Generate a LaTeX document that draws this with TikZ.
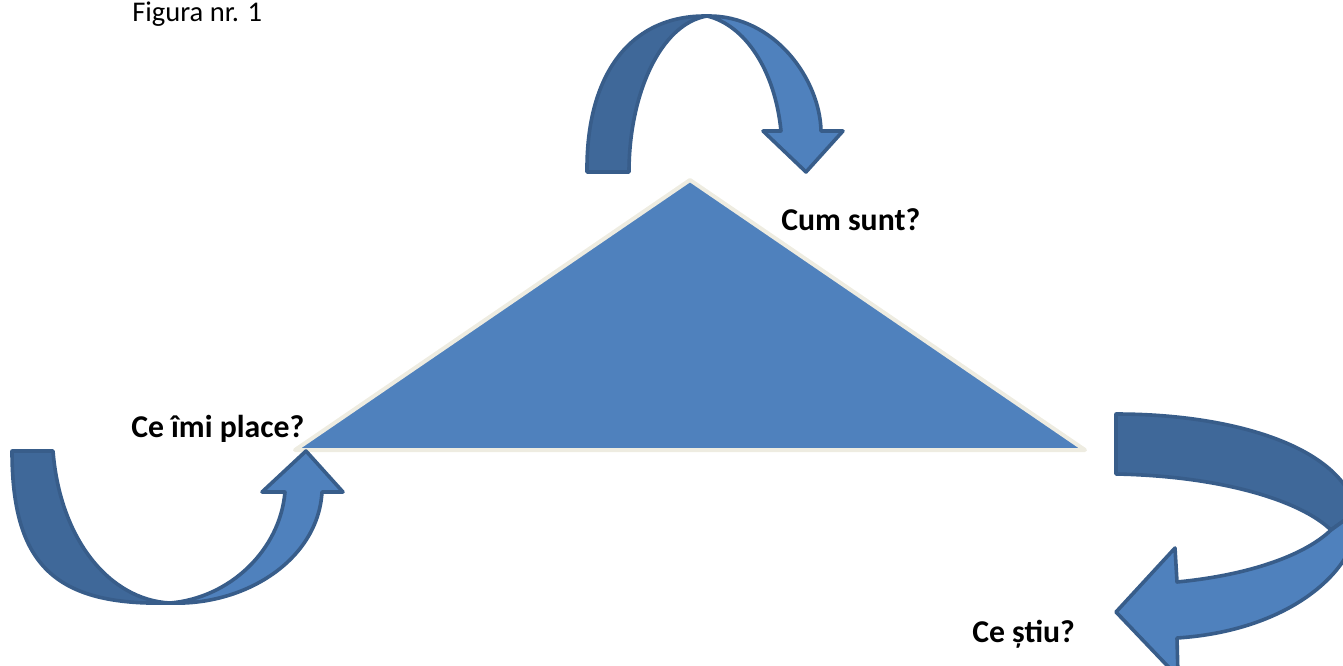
\documentclass[tikz,border=0pt]{standalone}
\usepackage{fontspec}
\setmainfont{Carlito}
\definecolor{fillA}{HTML}{4F81BD}
\definecolor{fillB}{HTML}{3F6899}
\definecolor{lineA}{HTML}{385D8A}
\definecolor{edgeT}{HTML}{EEECE1}
\begin{document}
\begin{tikzpicture}[x=0.75pt,y=-0.75pt, line join=round,
  band/.style={draw=lineA, line width=2.7pt, fill=fillA},
  bandback/.style={draw=lineA, line width=2.7pt, fill=fillB},
  lbl/.style={anchor=base west, inner sep=0pt, font=\fontsize{23.8}{28}\selectfont\bfseries}]
\useasboundingbox (0,0) rectangle (1343,665);
\clip (0,0) rectangle (1343,665);

\node[anchor=base west, inner sep=0pt, font=\fontsize{21.4}{25}\selectfont](F) at (132,21){Figura nr. 1};

% triangle
\draw[draw=edgeT, line width=3pt, fill=fillA] (690,180) -- (1085,450) -- (295,450) -- cycle;

% top arrow
\draw[bandback] (587,172) .. controls (586,75) and (630,15) .. (707,16)
  .. controls (660,24) and (629,95) .. (629,172) -- cycle;
\draw[band] (707,16) .. controls (775,15) and (820,80) .. (821,131) -- (843,131) -- (806,172)
  -- (763,131) -- (781,131) .. controls (775,70) and (745,25) .. (707,16) -- cycle;

% left arrow
\draw[bandback] (12,451) -- (53,451) .. controls (60,540) and (110,600) .. (170,603)
  .. controls (55,606) and (12,565) .. (12,451) -- cycle;
\draw[band] (170,603) .. controls (245,606) and (318,560) .. (322,492) -- (343,492) -- (306,451)
  -- (262,492) -- (285,492) .. controls (280,550) and (230,598) .. (170,603) -- cycle;

% right arrow
\draw[bandback] (1116,414) -- (1116,474) .. controls (1220,476) and (1300,500) .. (1331,530)
  -- (1356,512) .. controls (1345,450) and (1240,414) .. (1116,414) -- cycle;
\draw[band] (1331,530) -- (1356,512) .. controls (1365,560) and (1300,630) .. (1177,638)
  -- (1178,677) -- (1116,612) -- (1175,548) -- (1177,582)
  .. controls (1250,575) and (1305,555) .. (1331,530) -- cycle;

% labels
\node[lbl](L1) at (781,230){Cum sunt?};
\node[lbl](L2) at (131,437){Ce îmi place?};
\node[lbl](L3) at (972,642){Ce știu?};
\end{tikzpicture}
\end{document}
